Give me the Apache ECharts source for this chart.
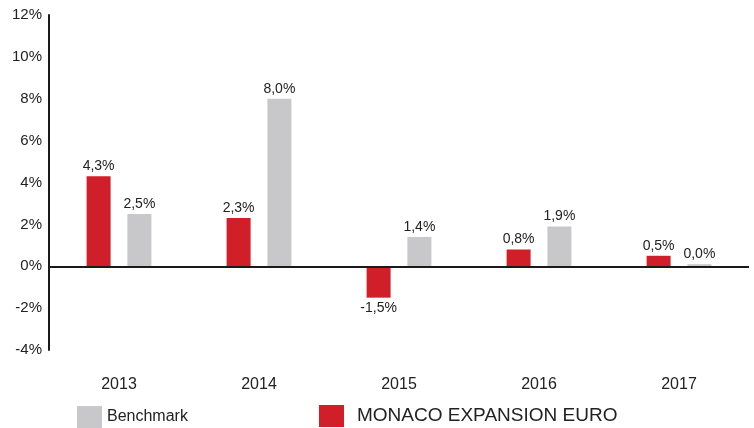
<!DOCTYPE html>
<html>
<head>
<meta charset="utf-8">
<script src="https://cdn.jsdelivr.net/npm/echarts@6/dist/echarts.min.js"></script>
<style>
  html, body { margin: 0; padding: 0; background: #fff; }
  #chart { width: 754px; height: 428px; }
</style>
</head>
<body>
<div id="chart"></div>
<script>
const years = ['2013', '2014', '2015', '2016', '2017']
const fundName = 'MONACO EXPANSION EURO'
const benchName = 'Benchmark'
const fundValues = [4.3, 2.3, -1.5, 0.8, 0.5]
const benchValues = [2.5, 8.0, 1.4, 1.9, 0.0]

const RED = '#d01f29'
const GREY = '#c8c7c9'

function pct(v) {
  return v.toFixed(1).replace('.', ',') + '%'
}

// negative bars get their label underneath
function toData(values) {
  return values.map(function (v) {
    return {
      value: v,
      label: { position: v < 0 ? 'bottom' : 'top' }
    }
  })
}

const chart = echarts.init(document.getElementById('chart'))

chart.setOption({
  animation: false,
  textStyle: { fontFamily: 'Arial, Liberation Sans, sans-serif' },
  grid: { left: 49, right: 5, top: 15, bottom: 78 },
  legend: [
    {
      data: [benchName],
      left: 72, top: 401,
      itemWidth: 25, itemHeight: 22, itemGap: 10,
      icon: 'rect',
      textStyle: { fontSize: 16, color: '#222' }
    },
    {
      data: [fundName],
      left: 314, top: 400,
      itemWidth: 25, itemHeight: 22,
      icon: 'rect',
      textStyle: { fontSize: 19, color: '#222', padding: [0, 0, 0, 8] }
    }
  ],
  xAxis: {
    type: 'category',
    data: years,
    axisLine: { show: false },
    axisTick: { show: false },
    axisLabel: { fontSize: 16, color: '#222', margin: 27 }
  },
  yAxis: {
    type: 'value',
    min: -4, max: 12, interval: 2,
    splitLine: { show: false },
    axisTick: { show: false },
    axisLine: { show: true, lineStyle: { color: '#1a1a1a', width: 2 } },
    axisLabel: { formatter: '{value}%', fontSize: 15, color: '#222', margin: 7 }
  },
  series: [
    {
      name: fundName,
      type: 'bar',
      data: toData(fundValues),
      barWidth: 24,
      barGap: '70%',
      barMinHeight: 2,
      itemStyle: { color: RED },
      label: { show: true, fontSize: 14, color: '#222', distance: 3, formatter: function (p) { return pct(p.value) } },
      // zero line across the plot
      markLine: {
        silent: true,
        symbol: 'none',
        label: { show: false },
        lineStyle: { color: '#1a1a1a', width: 2, type: 'solid' },
        data: [{ yAxis: 0 }]
      }
    },
    {
      name: benchName,
      type: 'bar',
      data: toData(benchValues),
      barWidth: 24,
      barMinHeight: 2,
      itemStyle: { color: GREY },
      label: { show: true, fontSize: 14, color: '#222', distance: 3, formatter: function (p) { return pct(p.value) } }
    }
  ]
})
</script>
</body>
</html>
